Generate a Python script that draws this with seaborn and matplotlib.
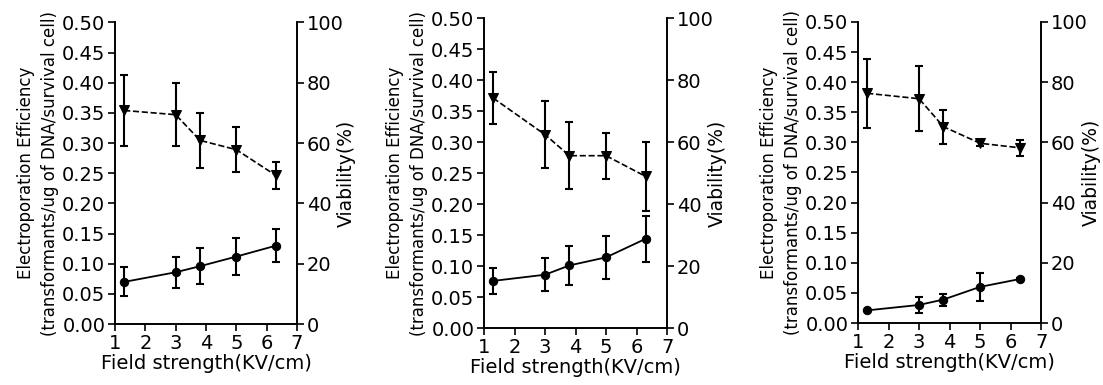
import numpy as np
import pandas as pd
import seaborn as sns
import matplotlib.pyplot as plt

# 数据
field = [1.3, 3.0, 3.8, 5.0, 6.3]

eff_1 = [0.070, 0.086, 0.096, 0.112, 0.130]
eff_err_1 = [0.024, 0.026, 0.030, 0.031, 0.027]
via_1 = [70.8, 69.4, 60.9, 57.8, 49.3]
via_err_1 = [11.7, 10.5, 9.0, 7.5, 4.5]

eff_2 = [0.076, 0.086, 0.101, 0.114, 0.144]
eff_err_2 = [0.021, 0.027, 0.031, 0.035, 0.037]
via_2 = [74.2, 62.4, 55.6, 55.6, 48.9]
via_err_2 = [8.5, 10.8, 10.9, 7.4, 11.1]

eff_3 = [0.021, 0.030, 0.039, 0.060, 0.073]
eff_err_3 = [0.001, 0.013, 0.010, 0.023, 0.002]
via_3 = [76.3, 74.5, 65.2, 59.7, 58.2]
via_err_3 = [11.5, 10.8, 5.6, 1.0, 2.7]

panels = [
    (eff_1, eff_err_1, via_1, via_err_1),
    (eff_2, eff_err_2, via_2, via_err_2),
    (eff_3, eff_err_3, via_3, via_err_3),
]
positions = [
    [0.1043, 0.158, 0.165, 0.784],
    [0.4388, 0.148, 0.166, 0.805],
    [0.7779, 0.161, 0.166, 0.782],
]

sns.set_style('ticks')
plt.rcParams['font.family'] = ['DejaVu Sans']
plt.rcParams['text.color'] = 'black'
plt.rcParams['axes.labelcolor'] = 'black'

fig = plt.figure(figsize=(11.03, 3.85), dpi=100)

for (eff, eff_err, via, via_err), pos in zip(panels, positions):
    ax = fig.add_axes(pos)
    ax2 = ax.twinx()
    df = pd.DataFrame({'field': field, 'eff': eff, 'via': via})

    ax.errorbar(field, eff, yerr=eff_err, fmt='none', ecolor='black',
                elinewidth=1.5, capsize=3, capthick=1.5)
    sns.lineplot(data=df, x='field', y='eff', ax=ax, color='black',
                 marker='o', markersize=6, markeredgecolor='black', linewidth=1.3)

    ax2.errorbar(field, via, yerr=via_err, fmt='none', ecolor='black',
                 elinewidth=1.5, capsize=3, capthick=1.5)
    sns.lineplot(data=df, x='field', y='via', ax=ax2, color='black',
                 marker='v', markersize=7, markeredgecolor='black',
                 linestyle='--', linewidth=1.2)

    ax.set_xlim(1, 7)
    ax.set_ylim(0, 0.5)
    ax2.set_ylim(0, 100)
    ax.set_xticks(range(1, 8))
    ax.set_yticks(np.arange(0, 0.51, 0.05))
    ax.set_yticklabels(['%.2f' % v for v in np.arange(0, 0.51, 0.05)])
    ax2.set_yticks([0, 20, 40, 60, 80, 100])

    for a in (ax, ax2):
        a.spines['top'].set_visible(False)
        a.tick_params(direction='out', length=5, width=1.2, pad=2,
                      labelsize=14, colors='black')
        for s in a.spines.values():
            s.set_linewidth(1.2)
            s.set_color('black')
    ax2.spines['right'].set_visible(True)

    ax.set_xlabel('Field strength(KV/cm)', fontsize=14, labelpad=1)
    ax.set_ylabel('Electroporation Efficiency\n(transformants/ug of DNA/survival cell)',
                  fontsize=12, labelpad=2, linespacing=1.45)
    ax2.set_ylabel('Viability(%)', fontsize=13.5)
    ax2.yaxis.set_label_coords(1.22, 0.5)

fig.savefig('out.png', dpi=100)
